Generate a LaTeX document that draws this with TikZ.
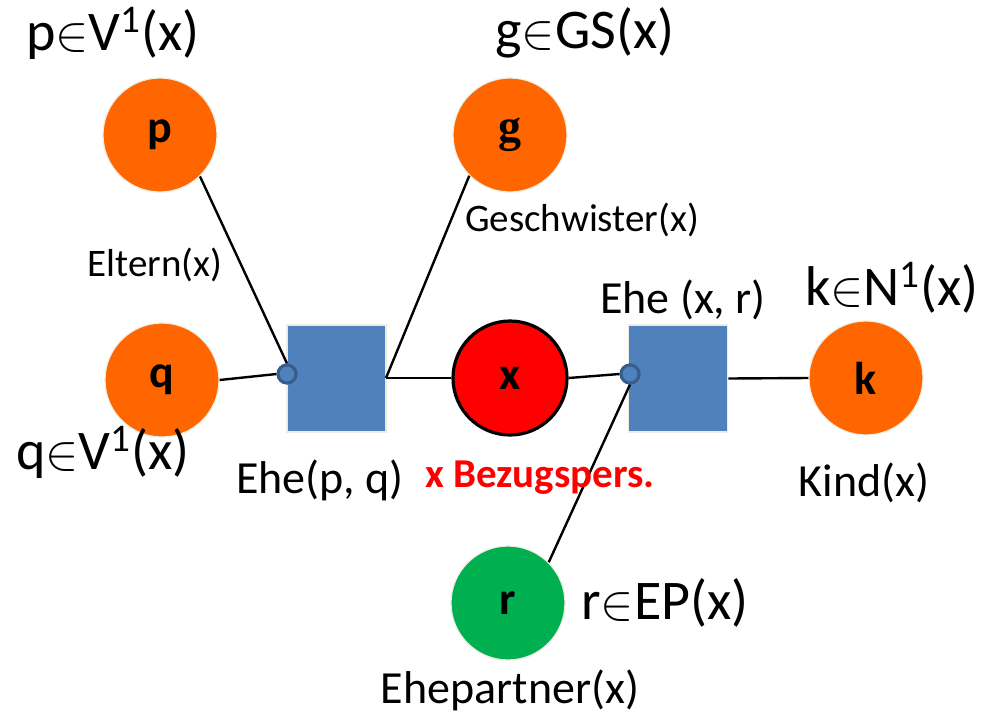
\documentclass[tikz,border=0pt]{standalone}
\usepackage{fontspec}
\setmainfont{Carlito}
\newfontfamily\serifb{Liberation Serif}
\definecolor{orng}{RGB}{255,102,0}
\definecolor{grn}{RGB}{0,176,80}
\definecolor{sqblue}{RGB}{79,129,189}
\definecolor{sqedge}{RGB}{238,236,225}
\definecolor{dotedge}{RGB}{56,93,138}
\tikzset{
  person/.style={circle, minimum size=57pt, inner sep=0pt, draw=sqedge, line width=0.6pt, font=\fontsize{23}{23}\selectfont\bfseries},
  marriage/.style={rectangle, minimum width=49.5pt, minimum height=53.5pt, inner sep=0pt, fill=sqblue, draw=sqedge, line width=0.8pt},
  joint/.style={circle, minimum size=9pt, inner sep=0pt, fill=sqblue, draw=dotedge, line width=1.5pt},
  link/.style={black, line width=1.2pt},
  biglbl/.style={font=\fontsize{28}{28}\selectfont, inner sep=0pt},
  midlbl/.style={font=\fontsize{23}{23}\selectfont, inner sep=0pt},
  smalllbl/.style={font=\fontsize{19.5}{19.5}\selectfont, inner sep=0pt}
}
\begin{document}
\begin{tikzpicture}[x=0.5pt,y=-0.5pt]
\useasboundingbox (0,0) rectangle (985,713);
% squares
\node[marriage] (m1) at (336.5,378.5) {};
\node[marriage] (m2) at (678,378.5) {};
% persons
\node[person, fill=orng] (p) at (160,135) {p};
\node[person, fill=orng] (g) at (510,135) {\serifb\bfseries g};
\node[person, fill=orng] (q) at (162,380) {q};
\node[person, fill=red, draw=black, line width=1.6pt] (x) at (510,378) {x};
\node[person, fill=orng] (k) at (866,378) {k};
\node[person, fill=grn] (r) at (508,603) {r};
% joints
\coordinate (m1r) at (386,378);
\node[joint] (j1) at (287,374) {};
\node[joint] (j2) at (630,374) {};
% connectors
\draw[link] (q.east) -- (j1.west);
\draw[link] (p.-46) -- (j1.north);
\draw[link] (m1r) -- (g.-135);
\draw[link] (m1r) -- (x.west);
\draw[link] (x.east) -- (j2.west);
\draw[link] (j2.south) -- (r.45);
\draw[link] (m2.east) -- (k.west);
\node[joint] at (j1) {};
\node[joint] at (j2) {};
% labels
\node[biglbl] (lp) at (113,33) {p$\in$V\textsuperscript{1}(x)};
\node[biglbl] (lg) at (585,33) {g$\in$GS(x)};
\node[biglbl] (lk) at (892,288) {k$\in$N\textsuperscript{1}(x)};
\node[biglbl] (lq) at (103,452) {q$\in$V\textsuperscript{1}(x)};
\node[biglbl] (lr) at (665,603) {r$\in$EP(x)};
\node[smalllbl] (le) at (155,265) {Eltern(x)};
\node[smalllbl] (lgs) at (582,220) {Geschwister(x)};
\node[midlbl] (lm2) at (683,300) {Ehe (x, r)};
\node[midlbl] (lm1) at (320,480) {Ehe(p, q)};
\node[midlbl] (lkind) at (864,483) {Kind(x)};
\node[midlbl] (lep) at (510,690) {Ehepartner(x)};
\node[font=\fontsize{20.5}{20.5}\selectfont\bfseries, text=red, inner sep=0pt] (lx) at (540,478) {x Bezugspers.};
\end{tikzpicture}
\end{document}
